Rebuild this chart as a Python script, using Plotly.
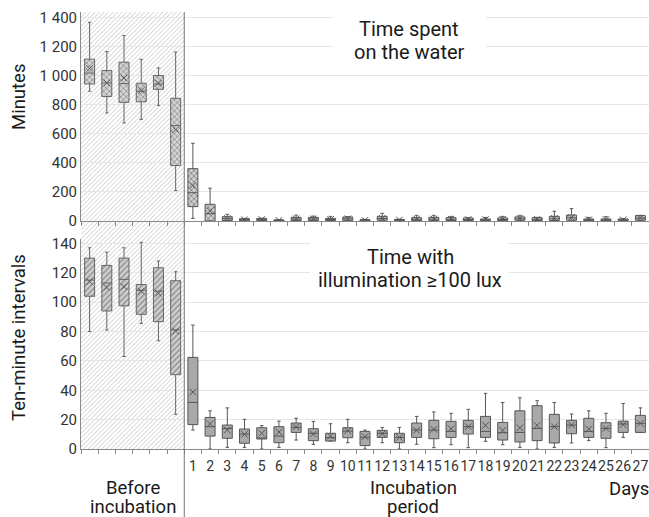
import base64
import plotly.graph_objects as go

# ---------------- data ----------------
pre_pos = [-5, -4, -3, -2, -1, 0]
days = list(range(1, 28))

# Time spent on the water (minutes) - before incubation
top_pre_lo = [895, 745, 676, 701, 797, 210]
top_pre_q1 = [945, 858, 818, 822, 908, 382]
top_pre_med = [1020, 952, 948, 895, 945, 658]
top_pre_q3 = [1116, 1037, 1095, 950, 1003, 846]
top_pre_hi = [1370, 1168, 1278, 1115, 1055, 1165]
top_pre_mean = [1052, 952, 985, 900, 950, 630]

# Time spent on the water (minutes) - incubation days 1..27
top_inc_lo = [18, 0, 0, 0, 0, 0, 0, 0, 0, 0, 0, 0, 0, 0, 0, 0, 0, 0, 0, 0, 0, 0, 0, 0, 0, 0, 0]
top_inc_q1 = [99, 0, 3, 2, 3, 0, 3, 3, 3, 3, 0, 5, 2, 3, 3, 3, 3, 3, 3, 5, 3, 3, 5, 3, 3, 3, 5]
top_inc_med = [195, 50, 16, 8, 11, 4, 13, 14, 10, 15, 5, 17, 6, 12, 13, 12, 10, 8, 10, 15, 12, 15, 22, 8, 8, 8, 20]
top_inc_q3 = [361, 115, 30, 16, 18, 7, 25, 25, 18, 28, 9, 32, 11, 23, 25, 23, 21, 14, 21, 28, 23, 32, 41, 14, 14, 14, 37]
top_inc_hi = [536, 226, 46, 18, 18, 9, 41, 34, 32, 30, 12, 53, 12, 39, 39, 32, 23, 25, 32, 39, 25, 67, 85, 25, 30, 16, 39]
top_inc_mean = [245, 70, 18, 9, 11, 5, 15, 15, 11, 16, 5, 19, 7, 14, 14, 13, 11, 10, 12, 17, 13, 18, 25, 9, 10, 8, 20]

# Time with illumination >=100 lux (ten-minute intervals) - before incubation
bot_pre_lo = [80, 81, 63, 85.5, 73.7, 23.6]
bot_pre_q1 = [104, 94, 97.5, 91.7, 86.7, 50.6]
bot_pre_med = [115, 113, 115.5, 108, 107.5, 81]
bot_pre_q3 = [130, 125, 130, 112, 123.4, 114.6]
bot_pre_hi = [137, 134, 137, 140.7, 128, 120.7]
bot_pre_mean = [114, 110, 110.5, 107.5, 106, 80.3]

# Time with illumination >=100 lux - incubation days 1..27
bot_inc_lo = [12.9, 0, 1.1, 1.1, 0, 1.1, 6.1, 3.2, 5.4, 4.3, 0, 4.3, 0, 3.2, 0.9, 2.9, 0.9, 5.2, 2.9, 1.1, 0, 1.1, 4.1, 5.7, 0.9, 7.9, 11.3]
bot_inc_q1 = [16.6, 8.8, 7.3, 3.9, 6.8, 4.3, 11.3, 5.7, 5.4, 7.7, 2.3, 7.9, 4.3, 7.9, 7, 7.9, 10.2, 7.9, 6.1, 4.8, 5.7, 4.1, 10.4, 7.9, 7.3, 11.3, 11.3]
bot_inc_med = [31.7, 15.2, 14, 10.2, 7.3, 8.8, 14.7, 10.7, 7.7, 12.2, 8.0, 10.7, 7.9, 12.9, 12.9, 12, 15.2, 12, 11.1, 11.3, 14, 15.2, 16.3, 12, 14, 17, 17.5]
bot_inc_q3 = [62.4, 21.5, 16.3, 13.6, 14.5, 15.2, 17.7, 13.8, 10.7, 14.5, 12, 12.7, 10.7, 17.7, 19.5, 18.8, 19.5, 22.2, 18.1, 26, 29.5, 23.6, 19.5, 20.9, 17.9, 19, 22.9]
bot_inc_hi = [84.4, 26, 28, 20.2, 15.9, 19, 20.9, 18.8, 17.2, 20.2, 12.9, 14.7, 14.7, 22.2, 25.2, 24.3, 27, 37.9, 31.7, 34.9, 32.9, 31.7, 23.8, 26, 24.3, 31, 28]
bot_inc_mean = [38.8, 17.2, 12.9, 10, 10.7, 11.6, 15, 10.2, 8.8, 12.5, 8.4, 10.4, 7.9, 12.7, 13.4, 13.8, 15.2, 16.1, 12.7, 14.5, 16.1, 15.2, 16.3, 13.6, 14, 16.6, 17.5]

top_ticks = [0, 200, 400, 600, 800, 1000, 1200, 1400]
top_ticktext = ["0", "200", "400", "600", "800", "1 000", "1 200", "1 400"]
bot_ticks = [0, 20, 40, 60, 80, 100, 120, 140]
day_labels = [str(d) for d in days]

# ---------------- layout geometry ----------------
W_FIG, H_FIG = 649, 517
L, R, T, B = 81, 649, 12, 449
PW, PH = R - L, B - T
XR = [-5.5, 27.5]
FONT = "Roboto"
BOXW = 0.58


def px(xp):
    return (xp - L) / PW


def py(yp):
    return (B - yp) / PH


fig = go.Figure()


def add_group(xs, lo, q1, med, q3, hi, mean, xa, ya, bg, pattern, fg, wcol):
    # box body fill (with texture)
    fig.add_trace(go.Bar(
        x=xs, base=q1, y=[b - a for a, b in zip(q1, q3)], width=BOXW,
        xaxis=xa, yaxis=ya, showlegend=False, hoverinfo="skip",
        marker=dict(color=bg, line=dict(width=0),
                    pattern=dict(shape=pattern, fgcolor=fg, bgcolor=bg,
                                 size=4, solidity=0.35, fillmode="replace")),
    ))
    fig.add_trace(go.Box(
        x=xs, lowerfence=lo, q1=q1, median=med, q3=q3, upperfence=hi,
        xaxis=xa, yaxis=ya, width=BOXW, whiskerwidth=0.35,
        fillcolor="rgba(0,0,0,0)", line=dict(color=wcol, width=1),
        boxpoints=False, showlegend=False, hoverinfo="skip",
    ))
    fig.add_trace(go.Scatter(
        x=xs, y=mean, mode="markers", xaxis=xa, yaxis=ya,
        marker=dict(symbol="x-thin-open", size=6.5, color="#555555",
                    line=dict(width=1, color="#555555")),
        showlegend=False, hoverinfo="skip",
    ))


add_group(pre_pos, top_pre_lo, top_pre_q1, top_pre_med, top_pre_q3, top_pre_hi,
          top_pre_mean, "x", "y", "#d4d4d4", "x", "#8c8c8c", "#666666")
add_group(days, top_inc_lo, top_inc_q1, top_inc_med, top_inc_q3, top_inc_hi,
          top_inc_mean, "x", "y", "#cfcfcf", "x", "#7a7a7a", "#555555")
add_group(pre_pos, bot_pre_lo, bot_pre_q1, bot_pre_med, bot_pre_q3, bot_pre_hi,
          bot_pre_mean, "x2", "y2", "#d0d0d0", "/", "#8c8c8c", "#666666")
add_group(days, bot_inc_lo, bot_inc_q1, bot_inc_med, bot_inc_q3, bot_inc_hi,
          bot_inc_mean, "x2", "y2", "#a9a9a9", "", "#a9a9a9", "#555555")

# hatched background for "before incubation"
hx1 = (0.5 - XR[0]) / (XR[1] - XR[0])
hw = hx1 * PW
svg = (
    f"<svg xmlns='http://www.w3.org/2000/svg' width='{hw:.2f}' height='{PH}' "
    f"viewBox='0 0 {hw:.2f} {PH}' preserveAspectRatio='none'>"
    "<defs><pattern id='h' width='3.2' height='3.2' patternUnits='userSpaceOnUse' "
    "patternTransform='rotate(45)'><line x1='0' y1='0' x2='0' y2='3.2' "
    "stroke='#b0b0b0' stroke-width='0.9'/></pattern></defs>"
    f"<rect x='0' y='0' width='{hw:.2f}' height='{PH}' fill='url(#h)'/></svg>"
)
src = "data:image/svg+xml;base64," + base64.b64encode(svg.encode()).decode()

axis_common = dict(showline=True, linecolor="#8a8a8a", linewidth=1,
                   zeroline=False, range=XR, showgrid=False, automargin=False)
minor = dict(ticks="outside", ticklen=4, tickcolor="#8a8a8a", tick0=0.5,
             dtick=1, showgrid=False)

fig.update_layout(
    width=W_FIG, height=H_FIG,
    margin=dict(l=L, r=W_FIG - R, t=T, b=H_FIG - B, pad=0, autoexpand=False),
    paper_bgcolor="white", plot_bgcolor="rgba(0,0,0,0)",
    font=dict(family=FONT, color="#222222"),
    showlegend=False, barmode="overlay",
    xaxis=dict(**axis_common, anchor="y", domain=[0, 1], showticklabels=False,
               tickvals=days, ticks="", minor=minor),
    xaxis2=dict(**axis_common, anchor="y2", domain=[0, 1], matches="x",
                tickvals=days, ticktext=day_labels, ticks="", minor=minor,
                tickangle=0, ticklabelstandoff=4,
                tickfont=dict(size=14, color="#333333")),
    yaxis=dict(domain=[py(221), 1], range=[0, 1441], tickvals=top_ticks,
               ticktext=top_ticktext, showgrid=True, gridcolor="#e6e6e6",
               showline=True, linecolor="#8a8a8a", zeroline=False, ticks="",
               automargin=False, tickfont=dict(size=15, color="#333333")),
    yaxis2=dict(domain=[0, py(239)], range=[0, 143], tickvals=bot_ticks,
                showgrid=True, gridcolor="#e6e6e6", showline=True,
                linecolor="#8a8a8a", zeroline=False, ticks="",
                automargin=False, tickfont=dict(size=15, color="#333333")),
    images=[dict(source=src, xref="paper", yref="paper", x=0, y=1,
                 sizex=hx1, sizey=1, xanchor="left", yanchor="top",
                 sizing="stretch", layer="below")],
)

# white boxes behind the in-plot titles
fig.add_shape(type="rect", xref="paper", yref="paper", x0=px(333), x1=px(486),
              y0=py(68), y1=py(14), fillcolor="white", line=dict(width=0),
              layer="above")
fig.add_shape(type="rect", xref="paper", yref="paper", x0=px(310), x1=px(509),
              y0=py(295), y1=py(240), fillcolor="white", line=dict(width=0),
              layer="above")
# separator between periods
fig.add_shape(type="line", xref="paper", yref="paper", x0=hx1, x1=hx1,
              y0=py(517), y1=1, line=dict(color="#777777", width=1))


def ann(text, xp, yp, size, angle=0):
    fig.add_annotation(text=text, xref="paper", yref="paper", x=px(xp), y=py(yp),
                       xanchor="center", yanchor="middle", showarrow=False,
                       textangle=angle, font=dict(size=size, color="#1a1a1a"))


ann("Time spent", 409, 29, 20)
ann("on the water", 409, 52, 20)
ann("Time with", 410, 257, 20)
ann("illumination ≥100 lux", 410, 280, 20)
ann("Minutes", 19, 97, 18.5, -90)
ann("Ten-minute intervals", 19, 338, 18.5, -90)
ann("Before", 133, 488, 18.5)
ann("incubation", 133, 507, 18.5)
ann("Incubation", 413, 488, 18.5)
ann("period", 413, 507, 18.5)
ann("Days", 629, 489, 18.5)

fig.write_html("out.html", config={"displayModeBar": False},
               post_script="document.body.style.margin='0';"
                           "document.body.style.padding='0';"
                           "document.body.style.overflow='hidden';")
